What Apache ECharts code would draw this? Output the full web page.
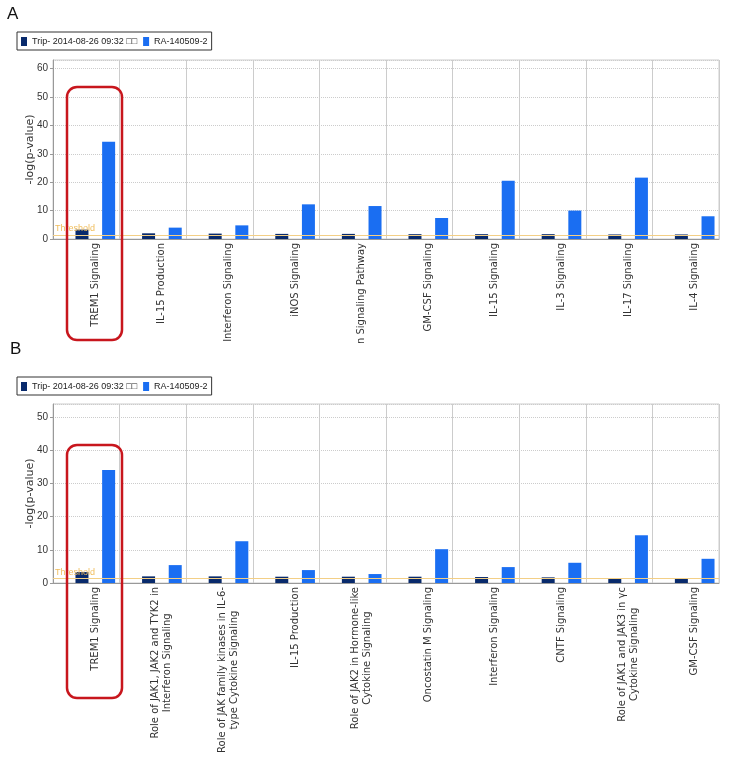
<!DOCTYPE html>
<html><head><meta charset="utf-8">
<script src="https://cdn.jsdelivr.net/npm/echarts@6/dist/echarts.min.js"></script>
<style>html,body{margin:0;padding:0;background:#fff}#c{width:731px;height:777px}</style>
</head><body><div id="c"></div>
<script>
const seriesNames = ['Trip- 2014-08-26 09:32 \u25A1\u25A1', 'RA-140509-2'];

const categoriesA = ['TREM1 Signaling', 'IL-15 Production', 'Interferon Signaling', 'iNOS Signaling',
  'Neuroinflammation Signaling Pathway', 'GM-CSF Signaling', 'IL-15 Signaling', 'IL-3 Signaling',
  'IL-17 Signaling', 'IL-4 Signaling'];
const tripA = [3.3, 2.0, 1.9, 1.8, 1.8, 1.7, 1.7, 1.7, 1.6, 1.6];
const raA   = [34.2, 4.0, 4.8, 12.2, 11.6, 7.4, 20.5, 10.0, 21.6, 8.0];

const categoriesB = ['TREM1 Signaling', 'Role of JAK1, JAK2 and TYK2 in\nInterferon Signaling',
  'Role of JAK family kinases in IL-6-\ntype Cytokine Signaling', 'IL-15 Production',
  'Role of JAK2 in Hormone-like\nCytokine Signaling', 'Oncostatin M Signaling', 'Interferon Signaling',
  'CNTF Signaling', 'Role of JAK1 and JAK3 in \u03b3c\nCytokine Signaling', 'GM-CSF Signaling'];
const tripB = [3.3, 2.0, 2.0, 1.9, 1.9, 1.9, 1.8, 1.7, 1.5, 1.4];
const raB   = [34.1, 5.4, 12.6, 3.9, 2.7, 10.2, 4.8, 6.1, 14.4, 7.3];

const threshold = 1.3;
const yMaxA = 63, yMaxB = 54, yStep = 10;

const DARK = '#082a6c', BLUE = '#1a6ef2';
const GRID_LINE = '#cccccc';
const SMALL_FONT = "'Liberation Sans', sans-serif";
const LABEL_FONT = 'DejaVu Sans';

// Panel A is cropped in the source figure: only the tail of long labels is visible.
const measureCtx = document.createElement('canvas').getContext('2d');
measureCtx.font = '10px ' + LABEL_FONT;
function visibleTail(s, maxW) {
  if (measureCtx.measureText(s).width <= maxW) return s;
  let t = s;
  while (t.length > 1 && measureCtx.measureText(t).width > maxW) t = t.slice(1);
  return t;
}

function frameAxisX(gi, cats) {
  return { gridIndex: gi, type: 'category', data: cats,
    axisLine: { lineStyle: { color: '#999' } }, axisTick: { show: false, interval: 0 },
    axisLabel: { show: false, interval: 0 },
    splitLine: { show: true, interval: 0, lineStyle: { color: GRID_LINE, width: 1 } } };
}
function barAxisX(gi, cats, maxW) {
  return { gridIndex: gi, type: 'category', data: cats,
    axisLine: { show: false }, axisTick: { show: false }, splitLine: { show: false },
    axisLabel: { interval: 0, rotate: 90, margin: 4,
      formatter: v => v.split('\n').map(s => '{c|' + (maxW ? visibleTail(s, maxW) : s) + '}').join('\n'),
      rich: { c: { align: 'center', fontSize: 10, fontFamily: LABEL_FONT, color: '#333', lineHeight: 12 } } } };
}
function frameAxisY(gi, max) {
  return { gridIndex: gi, type: 'value', min: 0, max: max, interval: yStep,
    name: '-log(p-value)', nameLocation: 'middle', nameGap: 17, nameMoveOverlap: false,
    nameTextStyle: { fontFamily: 'DejaVu Sans', fontSize: 11, color: '#333' },
    axisLine: { show: true, lineStyle: { color: '#999' } },
    axisTick: { show: true, length: 3, lineStyle: { color: '#999' } },
    axisLabel: { showMaxLabel: false, margin: 5, fontFamily: SMALL_FONT, fontSize: 10, color: '#333' },
    splitLine: { show: true, lineStyle: { color: GRID_LINE, type: 'dotted', width: 1 } } };
}
function hiddenAxisY(gi, max) {
  return { gridIndex: gi, type: 'value', min: 0, max: max, interval: yStep, show: false, splitLine: { show: false } };
}
function bars(xi, data, name, color) {
  return { type: 'bar', name: name, xAxisIndex: xi, yAxisIndex: xi, data: data,
    barWidth: 13, barGap: '105%', itemStyle: { color: color }, silent: true };
}
function thresholdSeries(xi, cats) {
  return { type: 'line', name: 'threshold', xAxisIndex: xi, yAxisIndex: xi,
    data: cats.map(() => null), symbol: 'none', silent: true,
    markLine: { silent: true, symbol: 'none', animation: false,
      data: [{ yAxis: threshold }],
      lineStyle: { color: '#f3cf86', width: 1, type: 'solid' },
      label: { show: true, position: 'insideStartTop', formatter: 'Threshold', distance: [2, 2],
        color: '#f0bd5c', fontSize: 9, fontFamily: 'Liberation Sans' } } };
}
function legend(top) {
  return { left: 17, top: top, data: seriesNames, icon: 'rect', itemWidth: 6, itemHeight: 9, itemGap: 6,
    padding: [5, 4, 4, 4], borderColor: '#333', borderWidth: 1, selectedMode: false,
    textStyle: { fontFamily: SMALL_FONT, fontSize: 9, color: '#222' } };
}

const option = {
  animation: false,
  backgroundColor: '#fff',
  legend: [legend(32), legend(377)],
  grid: [
    { left: 53, right: 12, top: 60, bottom: 538, show: true, borderColor: GRID_LINE, borderWidth: 1 },
    { left: 62, right: 3, top: 60, bottom: 538 },
    { left: 53, right: 12, top: 404, bottom: 194, show: true, borderColor: GRID_LINE, borderWidth: 1 },
    { left: 62, right: 3, top: 404, bottom: 194 }
  ],
  xAxis: [frameAxisX(0, categoriesA), barAxisX(1, categoriesA, 103), frameAxisX(2, categoriesB), barAxisX(3, categoriesB, 0)],
  yAxis: [frameAxisY(0, yMaxA), hiddenAxisY(1, yMaxA), frameAxisY(2, yMaxB), hiddenAxisY(3, yMaxB)],
  series: [
    thresholdSeries(0, categoriesA),
    bars(1, tripA, seriesNames[0], DARK),
    bars(1, raA, seriesNames[1], BLUE),
    thresholdSeries(2, categoriesB),
    bars(3, tripB, seriesNames[0], DARK),
    bars(3, raB, seriesNames[1], BLUE)
  ],
  graphic: [
    { type: 'text', left: 7, top: 6, style: { text: 'A', fontSize: 17, fontFamily: 'Liberation Sans', fill: '#111' } },
    { type: 'rect', z: 50, shape: { x: 40, y: 345, width: 691, height: 26 }, style: { fill: '#fff' } },
    { type: 'text', left: 10, top: 341, z: 55, style: { text: 'B', fontSize: 17, fontFamily: 'Liberation Sans', fill: '#111' } },
    { type: 'rect', z: 60, shape: { x: 67, y: 87, width: 55, height: 253, r: 10 },
      style: { fill: 'none', stroke: '#c8161d', lineWidth: 2.5 } },
    { type: 'rect', z: 60, shape: { x: 67, y: 445, width: 55, height: 253, r: 10 },
      style: { fill: 'none', stroke: '#c8161d', lineWidth: 2.5 } }
  ]
};

const chart = echarts.init(document.getElementById('c'), null, { renderer: 'canvas' });
chart.setOption(option);
</script>
</body></html>
